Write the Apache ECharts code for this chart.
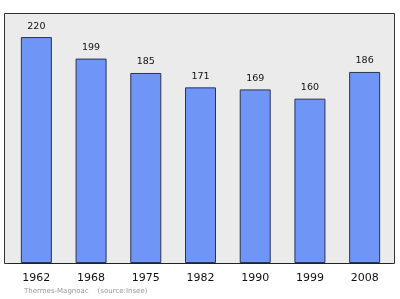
<!DOCTYPE html>
<html><head><meta charset="utf-8">
<script src="https://cdn.jsdelivr.net/npm/echarts@6/dist/echarts.min.js"></script>
<style>html,body{margin:0;padding:0;background:#fff}#c{width:400px;height:299px}</style>
</head><body><div id="c"></div>
<script>
var years = ['1962','1968','1975','1982','1990','1999','2008'];
var population = [220,199,185,171,169,160,186];
var footer = 'Thermes-Magnoac    (source:Insee)';

var chart = echarts.init(document.getElementById('c'), null, {renderer:'canvas'});
chart.setOption({
  animation:false,
  graphic:[
    {type:'rect', shape:{x:4.5,y:13.5,width:390,height:250}, style:{fill:'#ebebeb', stroke:'#333', lineWidth:1}, z:-10},
    {type:'text', left:24, top:288, style:{text:footer, fill:'#999', font:'7px "DejaVu Sans", sans-serif'}}
  ],
  grid:{left:9, right:8, top:13, bottom:36},
  xAxis:{type:'category', data:years, boundaryGap:true,
    axisLine:{show:true, lineStyle:{color:'#222', width:1}},
    axisTick:{show:false},
    axisLabel:{color:'#111', fontSize:11, fontFamily:'DejaVu Sans', margin:10}},
  yAxis:{type:'value', min:0, max:243.4, show:false, splitLine:{show:false}},
  series:[{type:'bar', data:population, barWidth:31,
    itemStyle:{color:'#6f95f7', borderColor:'#2a3350', borderWidth:1},
    label:{show:true, position:'top', distance:6, color:'#111', fontSize:9.5, fontFamily:'DejaVu Sans'}}]
});
</script></body></html>
